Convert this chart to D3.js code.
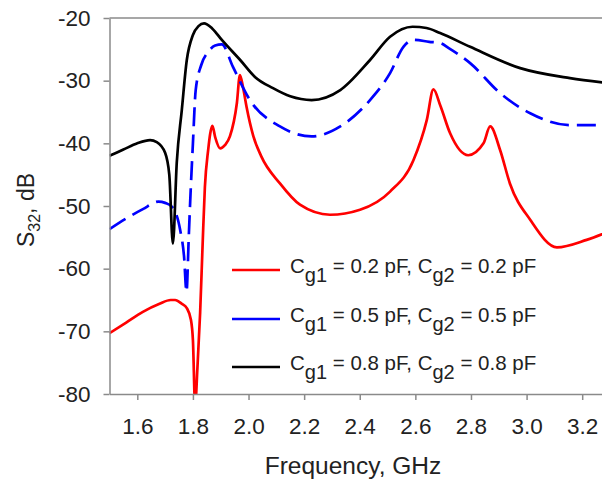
<!DOCTYPE html>
<html><head><meta charset="utf-8">
<script src="https://cdn.jsdelivr.net/npm/d3@7"></script>
<style>body{margin:0;background:#fff}svg{display:block}text{font-family:"Liberation Sans",Arial,sans-serif;fill:#222}</style>
</head><body>
<svg id="c" width="602" height="483"></svg>
<script>
const xTicks=[1.6,1.8,2.0,2.2,2.4,2.6,2.8,3.0,3.2];
const yTicks=[-20,-30,-40,-50,-60,-70,-80];
const red=[[1.50,-70.3],[1.56,-68.6],[1.62,-66.9],[1.68,-65.6],[1.72,-65.0],[1.736,-65.0],[1.76,-65.6],[1.778,-66.3],[1.793,-68.2],[1.80,-71.4],[1.808,-82],[1.816,-76],[1.826,-67],[1.835,-56],[1.843,-47],[1.855,-41],[1.862,-38.5],[1.87,-37.2],[1.88,-39],[1.898,-40.8],[1.915,-40.3],[1.933,-38.9],[1.958,-33.6],[1.969,-29.1],[1.98,-31],[1.993,-34.2],[2.017,-38.8],[2.045,-42],[2.113,-46.4],[2.185,-49.8],[2.293,-51.4],[2.401,-50.6],[2.509,-47.7],[2.593,-42.7],[2.641,-36.3],[2.665,-31.4],[2.69,-34],[2.725,-38.4],[2.79,-41.9],[2.845,-40],[2.869,-37.3],[2.905,-41.1],[2.94,-46.4],[3.013,-52.2],[3.109,-56.6],[3.216,-55.4],[3.30,-54]];
const blue=[[1.50,-53.7],[1.56,-52],[1.62,-50.5],[1.676,-49.3],[1.70,-49.5],[1.724,-50.1],[1.754,-53.8],[1.768,-58],[1.777,-63.7],[1.785,-55],[1.79,-49.5],[1.80,-40],[1.81,-31.5],[1.83,-27.5],[1.855,-25.4],[1.88,-24.4],[1.904,-24.2],[1.944,-27.8],[2.005,-33.1],[2.113,-37.3],[2.227,-38.9],[2.33,-37.3],[2.437,-33.1],[2.509,-28.8],[2.557,-24.6],[2.593,-23.5],[2.65,-23.8],[2.689,-24.0],[2.72,-24.8],[2.797,-27.2],[2.905,-32],[3.013,-35.2],[3.156,-37.1],[3.30,-37.1]];
const black=[[1.50,-42.0],[1.55,-41.0],[1.60,-40.0],[1.646,-39.5],[1.67,-39.8],[1.70,-41.5],[1.715,-45],[1.728,-56],[1.742,-43],[1.76,-34.7],[1.778,-26.7],[1.80,-22.7],[1.82,-21.3],[1.84,-20.85],[1.87,-21.7],[1.904,-23.5],[1.97,-26.7],[2.023,-29.4],[2.088,-31.2],[2.15,-32.5],[2.227,-33.1],[2.33,-31.5],[2.437,-26.7],[2.509,-23],[2.59,-21.4],[2.64,-21.6],[2.689,-22.4],[2.797,-24.6],[2.977,-28],[3.156,-29.6],[3.30,-30.4]];
const seriesLabels=[["0.2","0.2"],["0.5","0.5"],["0.8","0.8"]];

const svg=d3.select("#c");
const L=109.5,T=18,B=394;
const x=d3.scaleLinear().domain([1.5,3.3]).range([L,610]);
const y=d3.scaleLinear().domain([-80,-20]).range([B,T]);
const axisCol="#8a8a8a";

svg.append("defs").append("clipPath").attr("id","pc").append("rect")
  .attr("x",L).attr("y",T).attr("width",610-L).attr("height",B-T);

const line=d3.line().x(d=>x(d[0])).y(d=>y(d[1])).curve(d3.curveMonotoneX);
const g=svg.append("g").attr("clip-path","url(#pc)");
g.append("path").datum(red).attr("d",line).attr("fill","none").attr("stroke","#ff0000").attr("stroke-width",2.7);
g.append("path").datum(blue).attr("d",line).attr("fill","none").attr("stroke","#0000ff").attr("stroke-width",2.7).attr("stroke-dasharray","19,8");
g.append("path").datum(black).attr("d",line).attr("fill","none").attr("stroke","#000").attr("stroke-width",2.7);

svg.append("line").attr("x1",L).attr("x2",610).attr("y1",T).attr("y2",T).attr("stroke",axisCol).attr("stroke-width",1.5);

const xa=svg.append("g").attr("transform",`translate(0,${B})`)
  .call(d3.axisBottom(x).tickValues(xTicks).tickFormat(d3.format(".1f")).tickSize(6).tickPadding(18).tickSizeOuter(0));
const ya=svg.append("g").attr("transform",`translate(${L},0)`)
  .call(d3.axisLeft(y).tickValues(yTicks).tickFormat(d=>String(d).replace("−","-")).tickSize(6).tickPadding(13).tickSizeOuter(0));
[xa,ya].forEach(a=>{
  a.select(".domain").attr("stroke",axisCol).attr("stroke-width",1.5);
  a.selectAll(".tick line").attr("stroke",axisCol).attr("stroke-width",1.5);
  a.selectAll(".tick text").attr("font-size",22.5).attr("fill","#222").attr("font-family","Liberation Sans, Arial, sans-serif");
});

svg.append("text").attr("x",353).attr("y",474).attr("text-anchor","middle").attr("font-size",24.5).text("Frequency, GHz");
const yt=svg.append("text").attr("transform","translate(34,210) rotate(-90)").attr("text-anchor","middle").attr("font-size",23);
yt.append("tspan").text("S");
yt.append("tspan").attr("font-size",16).attr("dy",6).text("32");
yt.append("tspan").attr("dy",-6).text(", dB");

const cols=["#ff0000","#0000ff","#000"];
const ly=[270,319,367];
seriesLabels.forEach((s,i)=>{
  svg.append("line").attr("x1",232).attr("x2",280).attr("y1",ly[i]).attr("y2",ly[i]).attr("stroke",cols[i]).attr("stroke-width",2.7);
  const t=svg.append("text").attr("x",290).attr("y",ly[i]+3).attr("font-size",20.5);
  t.append("tspan").text("C");
  t.append("tspan").attr("dy",9).attr("font-size",20).text("g1");
  t.append("tspan").attr("dy",-9).text(` = ${s[0]} pF, C`);
  t.append("tspan").attr("dy",9).attr("font-size",20).text("g2");
  t.append("tspan").attr("dy",-9).text(` = ${s[1]} pF`);
});
</script>
</body></html>
